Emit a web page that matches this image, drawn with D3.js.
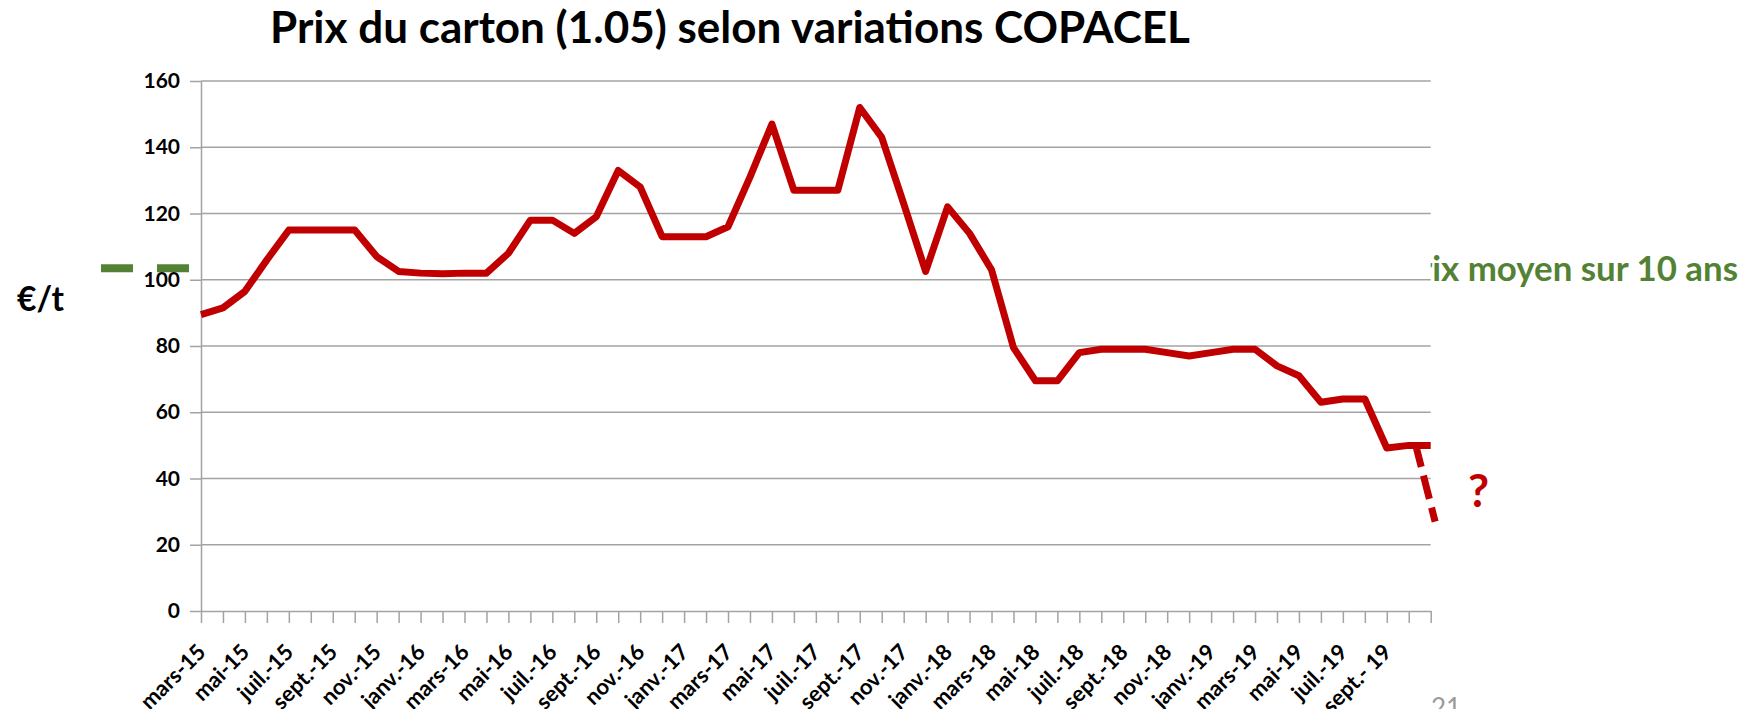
<!DOCTYPE html>
<html><head><meta charset="utf-8">
<script src="https://cdn.jsdelivr.net/npm/d3@7"></script>
<style>
html,body{margin:0;padding:0;background:#fff;overflow:hidden;}
svg{display:block;font-family:Lato,"Open Sans","Liberation Sans",sans-serif;}
</style></head><body>
<svg id="c" width="1747" height="709"></svg>
<script>
// ---------- data ----------
const title = "Prix du carton (1.05) selon variations COPACEL";
const yLabel = "€/t";
const categories = [
  "mars-15","avr.-15","mai-15","juin-15","juil.-15","août-15","sept.-15","oct.-15","nov.-15","déc.-15",
  "janv.-16","févr.-16","mars-16","avr.-16","mai-16","juin-16","juil.-16","août-16","sept.-16","oct.-16","nov.-16","déc.-16",
  "janv.-17","févr.-17","mars-17","avr.-17","mai-17","juin-17","juil.-17","août-17","sept.-17","oct.-17","nov.-17","déc.-17",
  "janv.-18","févr.-18","mars-18","avr.-18","mai-18","juin-18","juil.-18","août-18","sept.-18","oct.-18","nov.-18","déc.-18",
  "janv.-19","févr.-19","mars-19","avr.-19","mai-19","juin-19","juil.-19","août-19","sept.- 19","oct.-19","nov.-19"
];
const prices = [
  89.5, 91.5, 96.5, 106, 115, 115, 115, 115, 107, 102.5,
  102, 101.8, 102, 102, 108, 118, 118, 114, 119, 133, 128, 113,
  113, 113, 116, 131, 147, 127, 127, 127, 152, 143, 123, 102.5,
  122, 114, 103, 79.5, 69.5, 69.5, 78, 79, 79, 79, 78, 77,
  78, 79, 79, 74, 71, 63, 64, 64, 49.2, 50, 50
];
const tickLabels = [
  "mars-15","mai-15","juil.-15","sept.-15","nov.-15","janv.-16","mars-16","mai-16","juil.-16","sept.-16",
  "nov.-16","janv.-17","mars-17","mai-17","juil.-17","sept.-17","nov.-17","janv.-18","mars-18","mai-18",
  "juil.-18","sept.-18","nov.-18","janv.-19","mars-19","mai-19","juil.-19","sept.- 19"
];
const yTicks = [0, 20, 40, 60, 80, 100, 120, 140, 160];
const avgPrice = 103.5;
const avgLabel = "Prix moyen sur 10 ans";
const forecastIdx = [55.3, 56.2];
const forecastVal = [50.5, 27];
const forecastMark = "?";
const pageNumber = "21";

// ---------- layout ----------
const plot = {left: 201, right: 1430.7, top: 81, bottom: 611};
const RED = "#C00000", GREEN = "#548235", GRID = "#A3A3A3";
const svg = d3.select("#c");

const x = d3.scaleLinear().domain([0, categories.length - 1]).range([plot.left, plot.right]);
const y = d3.scaleLinear().domain([0, 160]).range([plot.bottom, plot.top]);

function fit(sel, target) {
  const w = sel.node().getComputedTextLength();
  const fs = parseFloat(sel.attr("font-size"));
  sel.attr("font-size", fs * target / w);
  return fs * target / w;
}

// green average line (behind plot area)
svg.append("line")
  .attr("x1", 101).attr("x2", plot.right - 10)
  .attr("y1", y(avgPrice)).attr("y2", y(avgPrice))
  .attr("stroke", GREEN).attr("stroke-width", 8)
  .attr("stroke-dasharray", "32,24");

// green label (partly hidden behind plot area)
const tmp = svg.append("text").attr("font-size", 28).attr("font-weight", 700).text(avgLabel.slice(2));
const gfs = fit(tmp, 306);
tmp.remove();
svg.append("text")
  .attr("x", 1738).attr("y", 281)
  .attr("text-anchor", "end")
  .attr("font-size", gfs).attr("font-weight", 700)
  .attr("fill", GREEN)
  .text(avgLabel);

// plot area background
svg.append("rect")
  .attr("x", plot.left).attr("y", plot.top)
  .attr("width", plot.right - plot.left).attr("height", plot.bottom - plot.top)
  .attr("fill", "#fff");

// gridlines
svg.append("g").selectAll("line").data(yTicks.filter(d => d > 0)).join("line")
  .attr("x1", plot.left).attr("x2", plot.right)
  .attr("y1", d => y(d)).attr("y2", d => y(d))
  .attr("stroke", GRID).attr("stroke-width", 1.5);

// y axis
const gy = svg.append("g").attr("transform", `translate(${plot.left},0)`)
  .call(d3.axisLeft(y).tickValues(yTicks).tickSize(11).tickSizeOuter(0).tickPadding(10));
gy.selectAll("path,line").attr("stroke", GRID).attr("stroke-width", 1.5);
gy.selectAll("text").attr("font-size", 21).attr("font-weight", 700).attr("fill", "#000")
  .attr("font-family", "Lato,'Open Sans',sans-serif");

// x axis
const labelSet = new Set(tickLabels);
const gx = svg.append("g").attr("transform", `translate(0,${plot.bottom})`)
  .call(d3.axisBottom(x).tickValues(d3.range(categories.length)).tickSize(12).tickSizeOuter(0)
    .tickFormat(i => labelSet.has(categories[i]) ? categories[i] : ""));
gx.selectAll("path,line").attr("stroke", GRID).attr("stroke-width", 1.5);
gx.selectAll("text")
  .attr("x", 0).attr("y", 0).attr("dy", "0.35em")
  .attr("text-anchor", "end")
  .attr("transform", "translate(0,37) rotate(-45)")
  .attr("font-size", 22).attr("font-weight", 700).attr("fill", "#000")
  .attr("font-family", "Lato,'Open Sans',sans-serif");

// price line
svg.append("path")
  .datum(prices)
  .attr("fill", "none").attr("stroke", RED).attr("stroke-width", 7)
  .attr("stroke-linejoin", "round").attr("stroke-linecap", "butt")
  .attr("d", d3.line().x((d, i) => x(i)).y(d => y(d)));

// forecast dashed segment
svg.append("path")
  .datum(forecastIdx.map((d, i) => [d, forecastVal[i]]))
  .attr("fill", "none").attr("stroke", RED).attr("stroke-width", 7)
  .attr("stroke-dasharray", "24,9")
  .attr("d", d3.line().x(d => x(d[0])).y(d => y(d[1])));

svg.append("text")
  .attr("x", 1468).attr("y", 507)
  .attr("font-size", 46).attr("font-weight", 700).attr("fill", RED)
  .text(forecastMark);

// title
const t = svg.append("text")
  .attr("x", 730).attr("y", 43).attr("text-anchor", "middle")
  .attr("font-size", 40).attr("font-weight", 700).attr("fill", "#000")
  .text(title);
fit(t, 920);

// y label
const yl = svg.append("text")
  .attr("x", 17).attr("y", 311)
  .attr("font-size", 28).attr("font-weight", 700).attr("fill", "#000")
  .text(yLabel);
fit(yl, 47);

// page number (cut at bottom, as on the source slide)
svg.append("text")
  .attr("x", 1431).attr("y", 717)
  .attr("font-size", 26).attr("fill", "#9A9A9A")
  .text(pageNumber);
</script>
</body></html>
